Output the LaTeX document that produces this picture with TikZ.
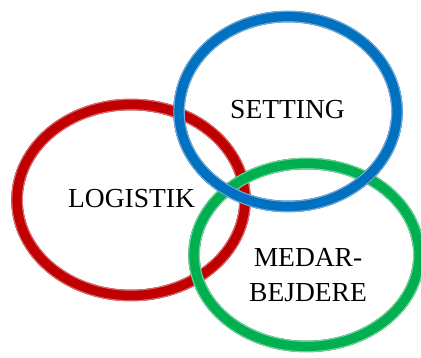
\documentclass[tikz,border=0pt]{standalone}
\usepackage{fontspec}
\setmainfont{Liberation Serif}

% ring colours: base, highlight, shadow
\definecolor{ringred}{HTML}{C00000}
\definecolor{ringredlight}{HTML}{E06A6E}
\definecolor{ringreddark}{HTML}{680000}
\definecolor{ringblue}{HTML}{0070C0}
\definecolor{ringbluelight}{HTML}{78AEDE}
\definecolor{ringbluedark}{HTML}{00366C}
\definecolor{ringgreen}{HTML}{00B050}
\definecolor{ringgreenlight}{HTML}{70D899}
\definecolor{ringgreendark}{HTML}{005828}

% a bevelled ring: shadow copy (down-right), highlight copy (up-left), core band
\newcommand\bevelring[4]{%
  \draw[bandshadow, #4dark]  (#1) ellipse [x radius=#2pt, y radius=#3pt];
  \draw[bandlight,  #4light] (#1) ellipse [x radius=#2pt, y radius=#3pt];
  \draw[bandcore,   #4]      (#1) ellipse [x radius=#2pt, y radius=#3pt];
}

\begin{document}
\begin{tikzpicture}[x=1pt, y=-1pt,
  labeltext/.style={font=\fontsize{27.5}{35}\selectfont, align=center, inner sep=0pt, text=black},
  bandshadow/.style={line width=11.5pt, shift={(1.5,1.5)}},
  bandlight/.style={line width=11.5pt, shift={(-1.5,-1.5)}},
  bandcore/.style={line width=9.2pt}]
  \useasboundingbox (0,0) rectangle (421,358);

  % ring centres
  \coordinate (logistikring) at (131,200);
  \coordinate (medarbejdering) at (306.5,255);
  \coordinate (settingring) at (288,111.5);

  % rings, back to front
  \bevelring{logistikring}{114}{95.5}{ringred}
  \bevelring{medarbejdering}{112.5}{91.5}{ringgreen}
  \bevelring{settingring}{109}{95}{ringblue}

  % labels
  \node[labeltext] (logistik) at (131.5,199) {LOGISTIK};
  \node[labeltext] (setting) at (287.5,110) {SETTING};
  \node[labeltext] (medarbejdere) at (308,275.5) {MEDAR-\\BEJDERE};
\end{tikzpicture}
\end{document}
